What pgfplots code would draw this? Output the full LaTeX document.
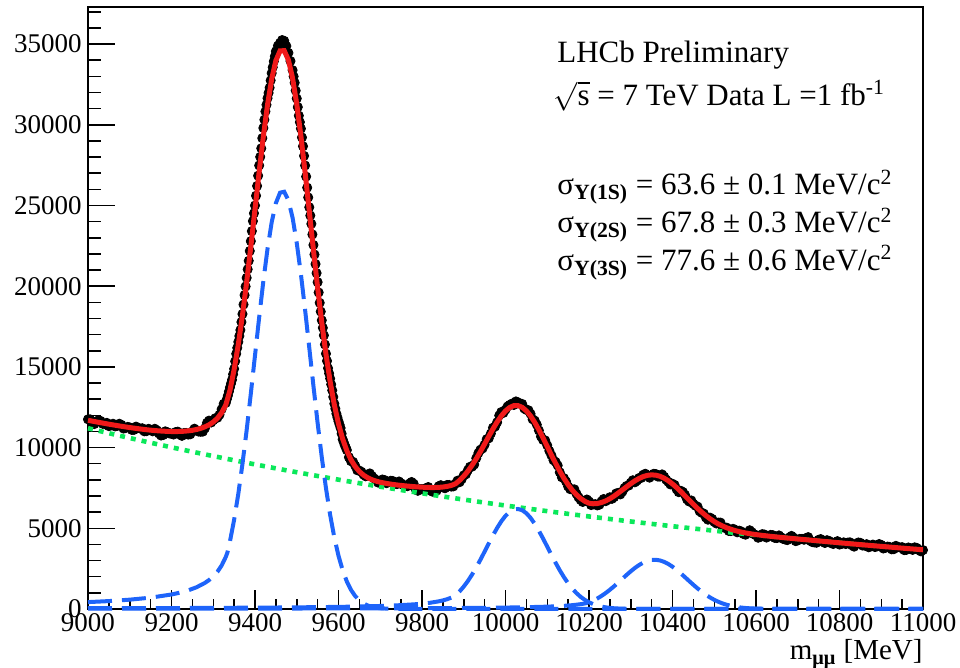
\documentclass[border=0pt]{standalone}
\usepackage{fontspec}
\setmainfont{Liberation Serif}
\usepackage{pgfplots}
\pgfplotsset{compat=1.18}
\usepackage{pgfplotstable}
\definecolor{fitred}{RGB}{240,25,25}
\definecolor{sigblue}{RGB}{30,100,250}
\definecolor{bkggreen}{RGB}{10,232,90}

% x, fit (total model), d (data)
\pgfplotstableread{
x f d
9000 11691 11751
9010 11641 11551
9020 11592 11622
9030 11544 11654
9040 11498 11458
9050 11450 11330
9060 11407 11477
9070 11364 11344
9080 11321 11411
9090 11281 11211
9100 11242 11252
9110 11207 11097
9120 11172 11222
9130 11138 11198
9140 11108 11018
9150 11080 11110
9160 11056 11166
9170 11036 10876
9180 11018 10778
9190 11006 10956
9200 10996 10856
9210 10994 10964
9220 11000 10810
9230 11014 10904
9240 11037 10807
9250 11071 11001
9260 11122 11062
9270 11192 10982
9280 11286 11196
9290 11412 11672
9300 11585 11695
9310 11820 11850
9320 12155 12375
9330 12638 12768
9340 13551 13725
9350 14838 14878
9360 16394 16547
9370 18207 18277
9380 20246 20518
9390 22463 22790
9400 24776 25000
9410 27090 27481
9420 29287 29803
9430 31244 31650
9440 32844 33203
9450 33981 34554
9460 34581 35077
9470 34594 35201
9480 34020 34457
9490 32892 33387
9500 31285 31629
9510 29298 29763
9520 27048 27479
9530 24659 24893
9540 22246 22552
9550 19911 20251
9560 17740 17888
9570 15789 15819
9580 14090 14277
9590 12654 12723
9600 11475 11631
9610 10537 10515
9620 9802 9846
9630 9242 9156
9640 8824 8874
9650 8515 8575
9660 8292 8322
9670 8130 8280
9680 8012 8242
9690 7923 8003
9700 7854 7854
9710 7802 7992
9720 7758 7858
9730 7720 7930
9740 7686 7736
9750 7656 7786
9760 7629 7639
9770 7605 7775
9780 7582 7762
9790 7563 7323
9800 7546 7426
9810 7535 7495
9820 7527 7337
9830 7527 7257
9840 7535 7605
9850 7557 7537
9860 7594 7684
9870 7654 7584
9880 7754 7764
9890 7966 7856
9900 8230 8280
9910 8545 8605
9920 8909 8819
9930 9314 9344
9940 9757 9867
9950 10223 10183
9960 10698 10578
9970 11160 11230
9980 11590 11570
9990 11965 12205
10000 12270 12350
10010 12486 12646
10020 12600 12640
10030 12602 12802
10040 12493 12703
10050 12276 12336
10060 11962 12092
10070 11563 11673
10080 11102 11062
10090 10597 10477
10100 10069 10139
10110 9539 9519
10120 9024 9114
10130 8540 8470
10140 8095 8105
10150 7701 7591
10160 7362 7412
10170 7077 7137
10180 6847 6757
10190 6674 6704
10200 6554 6664
10210 6518 6478
10220 6536 6416
10230 6598 6668
10240 6699 6679
10250 6834 6924
10260 6996 6926
10270 7182 7192
10280 7376 7266
10290 7574 7624
10300 7764 7824
10310 7940 7850
10320 8089 8119
10330 8206 8316
10340 8281 8241
10350 8311 8291
10360 8292 8362
10370 8223 8203
10380 8106 8196
10390 7946 7876
10400 7748 7758
10410 7521 7411
10420 7273 7323
10430 7011 7071
10440 6746 6656
10450 6485 6515
10460 6235 6345
10470 6000 5960
10480 5784 5664
10490 5590 5660
10500 5418 5398
10510 5267 5357
10520 5139 5069
10530 5030 5040
10540 4938 4828
10550 4859 4909
10560 4793 4853
10570 4737 4647
10580 4689 4719
10590 4647 4757
10600 4610 4570
10610 4577 4457
10620 4546 4616
10630 4516 4496
10640 4488 4578
10650 4462 4392
10660 4435 4445
10670 4411 4301
10680 4386 4436
10690 4362 4422
10700 4337 4247
10710 4313 4343
10720 4289 4399
10730 4266 4226
10740 4242 4122
10750 4218 4288
10760 4195 4175
10770 4172 4262
10780 4148 4078
10790 4125 4135
10800 4102 3992
10810 4079 4129
10820 4057 4117
10830 4034 3944
10840 4012 4042
10850 3989 4099
10860 3967 3927
10870 3945 3825
10880 3923 3993
10890 3901 3881
10900 3879 3969
10910 3858 3788
10920 3836 3846
10930 3815 3705
10940 3793 3843
10950 3772 3832
10960 3751 3661
10970 3731 3761
10980 3710 3820
10990 3690 3650
11000 3669 3650
}\maintab

% further data points between the ones above
\pgfplotstableread{
x y
9005 11751
9015 11457
9025 11688
9035 11476
9045 11534
9055 11374
9065 11311
9075 11478
9085 11181
9095 11282
9105 11095
9115 11300
9125 11180
9135 11008
9145 11164
9155 11008
9165 11071
9175 10747
9185 11007
9195 10876
9205 10810
9215 10987
9225 10727
9235 10906
9245 10824
9255 11172
9265 10992
9275 10989
9285 11534
9295 11554
9305 11823
9315 12033
9325 12712
9332.5 12993
9335 13217
9337.5 13471
9342.5 13964
9345 14202
9347.5 14540
9352.5 15346
9355 15813
9357.5 16180
9362.5 16915
9365 17282
9367.5 17780
9372.5 18863
9375 19448
9377.5 19983
9382.5 21046
9385 21574
9387.5 22182
9392.5 23413
9395 24035
9397.5 24518
9402.5 25606
9405 26211
9407.5 26846
9412.5 28012
9415 28542
9417.5 29173
9422.5 30315
9425 30827
9427.5 31239
9432.5 31974
9435 32297
9437.5 32750
9442.5 33566
9445 33929
9447.5 34242
9455 34900
9465 35250
9475 34880
9485 33950
9492.5 32998
9495 32608
9497.5 32119
9502.5 31098
9505 30566
9507.5 30165
9512.5 29217
9515 28671
9517.5 28075
9522.5 26793
9525 26106
9527.5 25500
9532.5 24378
9535 23863
9537.5 23208
9542.5 21962
9545 21372
9547.5 20812
9552.5 19611
9555 18970
9557.5 18429
9562.5 17421
9565 16954
9567.5 16387
9572.5 15369
9575 14918
9577.5 14598
9582.5 13914
9585 13550
9587.5 13137
9592.5 12410
9595 12097
9597.5 11864
9602.5 11422
9605 11213
9607.5 10864
9612.5 10333
9615 10151
9617.5 9999
9625 9401
9635 9115
9645 8595
9655 8499
9665 8221
9675 8401
9685 8093
9695 7829
9705 8023
9715 7795
9725 7944
9735 7753
9745 7901
9755 7683
9765 7607
9775 7869
9785 7413
9795 7425
9805 7381
9815 7556
9825 7267
9835 7331
9845 7671
9855 7481
9865 7684
9875 7594
9885 7950
9895 8038
9905 8343
9915 8812
9925 8952
9935 9656
9945 9945
9955 10521
9965 10874
9975 11300
9985 11988
9995 12148
10005 12548
10015 12720
10025 12861
10035 12723
10045 12420
10055 12314
10065 11753
10075 11418
10085 10690
10095 10448
10105 9799
10115 9217
10125 8892
10135 8158
10145 7898
10155 7422
10165 7415
10175 6917
10185 6631
10195 6784
10205 6441
10215 6497
10225 6462
10235 6814
10245 6772
10255 6825
10265 7159
10275 7099
10285 7495
10295 7644
10305 7977
10315 7955
10325 8118
10335 8379
10345 8136
10355 8377
10365 8203
10375 8340
10385 8006
10395 7717
10405 7685
10415 7237
10425 7247
10435 6784
10445 6726
10455 6400
10465 6053
10475 5912
10485 5532
10495 5579
10505 5298
10515 5353
10525 5025
10535 4834
10545 4969
10555 4751
10565 4800
10575 4603
10585 4878
10595 4634
10605 4414
10615 4637
10625 4426
10635 4587
10645 4405
10655 4559
10665 4343
10675 4269
10685 4529
10695 4205
10705 4345
10715 4291
10725 4453
10735 4144
10745 4105
10755 4332
10765 4089
10775 4220
10785 4027
10795 4204
10805 4031
10815 4023
10825 4131
10835 3863
10845 4121
10855 3933
10865 4016
10875 3879
10885 3837
10895 4025
10905 3749
10915 3867
10925 3696
10935 3914
10945 3808
10955 3647
10965 3811
10975 3661
10985 3785
10995 3570
}\midtab

\pgfplotstableread{
x y
9000 11200
9050 10892
9100 10592
9150 10301
9200 10017
9250 9742
9300 9474
9350 9213
9400 8959
9450 8713
9500 8473
9550 8240
9600 8013
9650 7793
9700 7578
9750 7370
9800 7167
9850 6970
9900 6778
9950 6592
10000 6410
10050 6234
10100 6062
10150 5895
10200 5733
10250 5575
10300 5422
10350 5273
10400 5128
10450 4987
10500 4849
10550 4716
10600 4586
10650 4460
10700 4337
10750 4218
10800 4102
10850 3989
10900 3879
10950 3772
11000 3669
}\bkgtab

\pgfplotstableread{
x y
9000 426
9050 490
9100 578
9150 703
9200 899
9220 1011
9240 1155
9260 1347
9280 1616
9290 1794
9300 2019
9310 2305
9320 2690
9330 3225
9334 3504
9340 4188
9350 5525
9360 7131
9370 8993
9380 11080
9390 13347
9400 15709
9410 18070
9420 20313
9430 22318
9440 23965
9450 25149
9460 25794
9470 25853
9480 25325
9490 24242
9500 22681
9510 20738
9520 18531
9530 16185
9540 13815
9550 11523
9560 9394
9570 7485
9580 5828
9590 4434
9600 3297
9610 2398
9620 1702
9630 1181
9640 802
9650 531
9660 344
9670 218
9680 135
9690 82
9700 48
9720 15
9750 2
9800 0
11000 0
}\sonetab

\pgfplotstableread{
x y
9000 47
9200 59
9400 82
9500 101
9600 131
9650 154
9700 187
9740 226
9780 286
9800 330
9820 388
9840 473
9850 531
9860 605
9870 703
9880 839
9890 1089
9900 1389
9910 1739
9920 2138
9930 2579
9940 3057
9950 3557
9960 4065
9970 4561
9980 5024
9990 5434
10000 5772
10010 6019
10020 6164
10030 6198
10040 6119
10050 5932
10060 5647
10070 5277
10080 4843
10090 4365
10100 3862
10110 3355
10120 2863
10130 2398
10140 1972
10150 1593
10160 1263
10170 984
10180 751
10190 565
10200 416
10210 301
10220 214
10230 149
10240 102
10250 69
10260 45
10270 30
10280 19
10300 7
10320 2
10350 0
11000 0
}\stwotab

\pgfplotstableread{
x y
9000 18
9200 21
9400 26
9600 34
9800 49
9900 63
10000 88
10050 110
10100 145
10120 166
10140 195
10160 236
10180 298
10190 344
10200 405
10210 516
10220 652
10230 811
10240 990
10250 1190
10260 1407
10270 1638
10280 1874
10290 2109
10300 2335
10310 2544
10320 2725
10330 2873
10340 2978
10350 3038
10360 3048
10370 3008
10380 2920
10390 2789
10400 2620
10410 2421
10420 2201
10430 1968
10440 1731
10450 1498
10460 1276
10470 1068
10480 880
10490 713
10500 569
10510 445
10520 343
10530 261
10540 195
10550 143
10560 103
10570 73
10580 51
10600 24
10620 10
10650 2
10700 0
11000 0
}\sthreetab

\begin{document}
\begin{tikzpicture}
\begin{axis}[
  scale only axis,
  width=417.5pt, height=301pt,
  xmin=9000, xmax=11000, ymin=0, ymax=37300,
  xtick={9000,9200,...,11000},
  minor xtick={9000,9050,...,11000},
  ytick={0,5000,...,35000},
  minor ytick={0,1000,...,37000},
  tick align=inside, tick pos=left,
  axis line style={line width=0.75pt},
  every tick/.style={black, line width=0.75pt},
  xtick style={/pgfplots/major tick length=9.5pt, /pgfplots/minor tick length=5pt},
  ytick style={/pgfplots/major tick length=13.5pt, /pgfplots/minor tick length=6.7pt},
  scaled ticks=false,
  /pgf/number format/1000 sep={},
  /pgf/number format/assume math mode=true,
  tick label style={font=\fontsize{13.5}{16}\selectfont},
  yticklabel style={inner sep=0pt, xshift=-3pt},
  xticklabel style={inner sep=0pt, yshift=-2pt},
  clip=false,
  clip marker paths=true,
]
\addplot[only marks, mark=*, mark size=2.3pt, black] table[x=x, y=d]{\maintab};
\addplot[only marks, mark=*, mark size=2.3pt, black] table[x=x, y=y]{\midtab};
\addplot[bkggreen, line width=2.3pt, dash pattern=on 2.5pt off 3pt] table[x=x, y=y]{\bkgtab};
\addplot[sigblue, line width=2pt, dash pattern=on 12pt off 5pt] table[x=x, y=y]{\sonetab};
\addplot[sigblue, line width=2pt, dash pattern=on 12pt off 5pt] table[x=x, y=y]{\stwotab};
\addplot[sigblue, line width=2pt, dash pattern=on 12pt off 5pt] table[x=x, y=y]{\sthreetab};
\addplot[fitred, line width=2.5pt] table[x=x, y=f]{\maintab};

\node[anchor=base west, inner sep=0pt, font=\fontsize{15.5}{18}\selectfont] at (rel axis cs:0.5617,0.9086) {LHCb Preliminary};
\node[anchor=base west, inner sep=0pt, font=\fontsize{15.5}{18}\selectfont] at (rel axis cs:0.557,0.837) {\smash{$\sqrt{\mbox{s}}$} = 7 TeV Data L =1 fb\textsuperscript{-1}};
\node[anchor=base west, inner sep=0pt, font=\fontsize{15.5}{18}\selectfont] at (rel axis cs:0.5617,0.688) {σ\textsubscript{\textbf{Y(1S)}} = 63.6 ± 0.1 MeV/c\textsuperscript{2}};
\node[anchor=base west, inner sep=0pt, font=\fontsize{15.5}{18}\selectfont] at (rel axis cs:0.5617,0.625) {σ\textsubscript{\textbf{Y(2S)}} = 67.8 ± 0.3 MeV/c\textsuperscript{2}};
\node[anchor=base west, inner sep=0pt, font=\fontsize{15.5}{18}\selectfont] at (rel axis cs:0.5617,0.563) {σ\textsubscript{\textbf{Y(3S)}} = 77.6 ± 0.6 MeV/c\textsuperscript{2}};
\node[anchor=base east, inner sep=0pt, yshift=-25.5pt, font=\fontsize{14.5}{17}\selectfont] at (rel axis cs:1,0) {m\textsubscript{\textbf{μμ}} [MeV]};
\end{axis}
\pgfresetboundingbox
\path ([xshift=-44pt,yshift=-29.5pt]current axis.south west) rectangle ([xshift=18.5pt,yshift=3.5pt]current axis.north east);
\end{tikzpicture}
\end{document}
